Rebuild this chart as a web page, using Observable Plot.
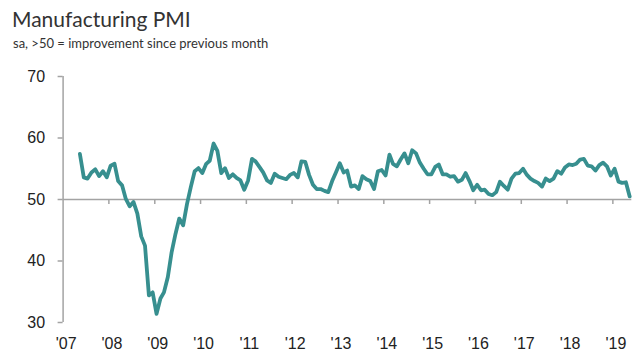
<!DOCTYPE html>
<html>
<head>
<meta charset="utf-8">
<script src="https://cdn.jsdelivr.net/npm/d3@7"></script>
<script src="https://cdn.jsdelivr.net/npm/@observablehq/plot@0.6"></script>
<style>
  html, body { margin: 0; padding: 0; background: #fff; }
  #wrap { position: relative; width: 640px; height: 363px; overflow: hidden; }
  #title { position: absolute; left: 12px; top: 6px; font-family: Lato, "Open Sans", sans-serif; font-size: 21px; color: #333; white-space: nowrap; }
  #subtitle { position: absolute; left: 13px; top: 35px; font-family: Lato, "Open Sans", sans-serif; font-size: 13px; color: #333; white-space: nowrap; }
  #chart { position: absolute; left: 0; top: 56px; }
</style>
</head>
<body>
<div id="wrap">
  <div id="title">Manufacturing PMI</div>
  <div id="subtitle">sa, &gt;50 = improvement since previous month</div>
  <div id="chart"></div>
</div>
<script>
// Monthly values, first point May 2007
const firstMonth = "2007-05";
const pmi2007 = [57.4, 53.6, 53.4, 54.4, 54.9, 53.8, 54.6, 53.6];
const pmi2008 = [55.5, 55.8, 53.0, 52.3, 50.1, 48.9, 49.6, 47.7, 44.0, 42.5, 34.4, 34.9];
const pmi2009 = [31.4, 33.9, 34.9, 37.4, 41.4, 44.4, 46.9, 45.8, 49.3, 52.0, 54.6, 55.1];
const pmi2010 = [54.3, 55.8, 56.3, 59.1, 57.9, 54.3, 55.1, 53.5, 54.1, 53.5, 53.1, 51.6];
const pmi2011 = [53.1, 56.6, 56.2, 55.3, 54.4, 53.1, 52.7, 54.2, 53.7, 53.5, 53.3, 54.0];
const pmi2012 = [54.3, 53.6, 56.2, 56.1, 54.0, 52.4, 51.7, 51.7, 51.4, 51.2, 53.0, 54.4];
const pmi2013 = [55.9, 54.4, 54.7, 52.1, 52.3, 51.7, 53.8, 53.3, 53.0, 51.7, 54.6, 54.8];
const pmi2014 = [53.9, 57.3, 55.8, 55.4, 56.5, 57.5, 55.9, 58.0, 57.5, 56.0, 55.0, 54.1];
const pmi2015 = [54.1, 55.3, 55.7, 54.1, 54.1, 53.7, 53.8, 52.9, 53.2, 54.3, 53.0, 51.5];
const pmi2016 = [52.4, 51.5, 51.6, 50.9, 50.7, 51.2, 52.9, 52.2, 51.6, 53.4, 54.2, 54.3];
const pmi2017 = [55.0, 54.0, 53.4, 53.0, 52.7, 52.1, 53.4, 53.0, 53.4, 54.6, 54.2, 55.2];
const pmi2018 = [55.7, 55.6, 55.8, 56.5, 56.6, 55.5, 55.4, 54.7, 55.6, 56.0, 55.4, 53.9];
const pmi2019 = [55.0, 52.9, 52.7, 52.8, 50.5];

const yearTicks = [2007, 2008, 2009, 2010, 2011, 2012, 2013, 2014, 2015, 2016, 2017, 2018, 2019];
const yearLabels = ["'07", "'08", "'09", "'10", "'11", "'12", "'13", "'14", "'15", "'16", "'17", "'18", "'19"];
const yTicks = [30, 40, 50, 60, 70];

const values = [].concat(pmi2007, pmi2008, pmi2009, pmi2010, pmi2011, pmi2012, pmi2013,
  pmi2014, pmi2015, pmi2016, pmi2017, pmi2018, pmi2019);
const start = d3.utcParse("%Y-%m")(firstMonth);
const data = values.map((v, i) => ({
  date: d3.utcDay.offset(d3.utcMonth.offset(start, i), 14),
  value: v
}));
const tickDates = yearTicks.map(y => new Date(Date.UTC(y, 0, 1)));
const xDomain = [new Date(Date.UTC(2007, 0, 1)), new Date(Date.UTC(2019, 5, 1))];
const axisGray = "#a3a3a3";

const chart = Plot.plot({
  width: 640,
  height: 307,
  marginLeft: 62.6,
  marginRight: 8.7,
  marginTop: 20,
  marginBottom: 41,
  x: { type: "utc", domain: xDomain },
  y: { domain: d3.extent(yTicks) },
  style: { fontFamily: "'Liberation Sans', Arial, sans-serif", fontSize: "16px", color: "#222", background: "#fff" },
  marks: [
    Plot.ruleY([50], { stroke: axisGray, strokeWidth: 1.5 }),
    Plot.ruleX([xDomain[0]], { y1: d3.min(yTicks), y2: d3.max(yTicks), stroke: axisGray, strokeWidth: 1.5 }),
    Plot.ruleX(tickDates.slice(1), { x: d => d, y1: 50, y2: 50, insetBottom: -5, stroke: axisGray, strokeWidth: 1.5 }),
    Plot.axisY(yTicks, { tickSize: 5, tickPadding: 13, stroke: axisGray, strokeWidth: 1.5, fill: "#222", label: null }),
    Plot.axisX(tickDates, { tickSize: 0, tickPadding: 15, dx: 3, fill: "#222", label: null,
      tickFormat: d => yearLabels[yearTicks.indexOf(d.getUTCFullYear())] }),
    Plot.line(data, { x: "date", y: "value", stroke: "#378f8f", strokeWidth: 3.8 })
  ]
});
document.getElementById("chart").appendChild(chart);
</script>
</body>
</html>
